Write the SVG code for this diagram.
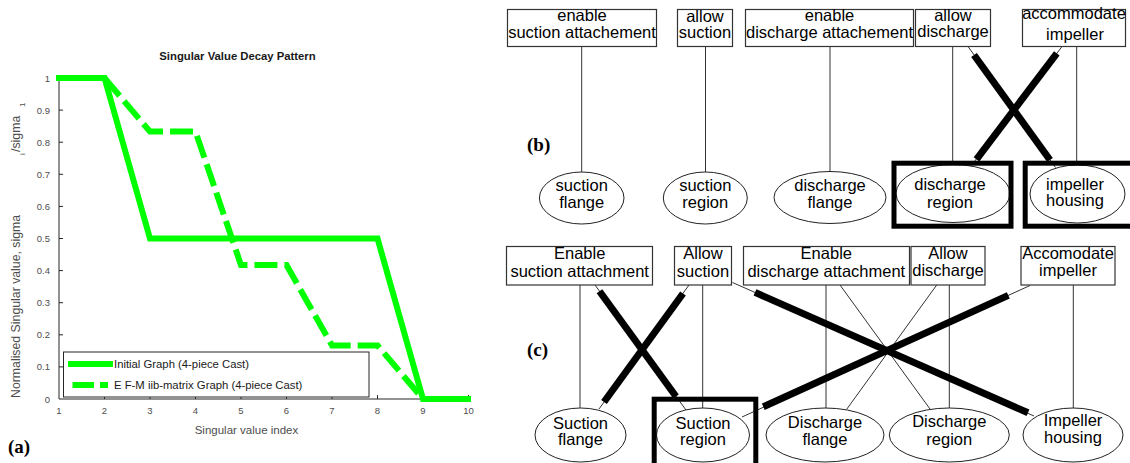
<svg xmlns="http://www.w3.org/2000/svg" width="1130" height="463" viewBox="0 0 1130 463">
<style>
.ax{stroke:#262626;stroke-width:1;fill:none}
.tky{font-family:"Liberation Sans",Arial,sans-serif;font-size:9.5px;fill:#4d4d4d;text-anchor:end}
.tkx{font-family:"Liberation Sans",Arial,sans-serif;font-size:9.5px;fill:#4d4d4d;text-anchor:middle}
.ttl{font-family:"Liberation Sans",Arial,sans-serif;font-size:11.3px;font-weight:bold;fill:#1a1a1a;text-anchor:middle}
.lbl{font-family:"Liberation Sans",Arial,sans-serif;font-size:11.5px;fill:#4d4d4d}
.sub{font-family:"Liberation Sans",Arial,sans-serif;font-size:8px;fill:#4d4d4d}
.leg{font-family:"Liberation Sans",Arial,sans-serif;font-size:11.3px;fill:#1a1a1a}
.g1{stroke:#00ff00;stroke-width:6;fill:none;stroke-linejoin:miter}
.g2{stroke:#00ff00;stroke-width:6;fill:none;stroke-dasharray:23 7;stroke-dashoffset:14.2}
.box{fill:#fff;stroke:#333;stroke-width:1.2}
.ell{fill:#fff;stroke:#222;stroke-width:1}
.t{font-family:"Liberation Sans",Arial,sans-serif;font-size:16.5px;fill:#000;text-anchor:middle}
.thin{stroke:#333;stroke-width:1;fill:none}
.thick{stroke:#000;stroke-width:7;fill:none}
.hl{fill:none;stroke:#000;stroke-width:5}
.pl{font-family:"Liberation Serif","Times New Roman",serif;font-weight:bold;font-size:19px;fill:#000}
</style>

<g id="chart-a">
  <text class="ttl" x="237.5" y="60">Singular Value Decay Pattern</text>
  <path class="ax" d="M59,78 V399 H468.5"/>
  <path class="ax" d="M59,366.9h4M59,334.8h4M59,302.7h4M59,270.6h4M59,238.5h4M59,206.4h4M59,174.3h4M59,142.2h4M59,110.1h4M59,78h4"/>
  <path class="ax" d="M104.5,399v-4M150,399v-4M195.5,399v-4M241,399v-4M286.5,399v-4M332,399v-4M377.5,399v-4M423,399v-4M468.5,399v-4"/>
  <g>
    <text class="tky" x="50" y="402.5">0</text>
    <text class="tky" x="50" y="370.4">0.1</text>
    <text class="tky" x="50" y="338.3">0.2</text>
    <text class="tky" x="50" y="306.2">0.3</text>
    <text class="tky" x="50" y="274.1">0.4</text>
    <text class="tky" x="50" y="242">0.5</text>
    <text class="tky" x="50" y="209.9">0.6</text>
    <text class="tky" x="50" y="177.8">0.7</text>
    <text class="tky" x="50" y="145.7">0.8</text>
    <text class="tky" x="50" y="113.6">0.9</text>
    <text class="tky" x="50" y="81.5">1</text>
  </g>
  <g>
    <text class="tkx" x="59" y="414">1</text>
    <text class="tkx" x="104.5" y="414">2</text>
    <text class="tkx" x="150" y="414">3</text>
    <text class="tkx" x="195.5" y="414">4</text>
    <text class="tkx" x="241" y="414">5</text>
    <text class="tkx" x="286.5" y="414">6</text>
    <text class="tkx" x="332" y="414">7</text>
    <text class="tkx" x="377.5" y="414">8</text>
    <text class="tkx" x="423" y="414">9</text>
    <text class="tkx" x="468.5" y="414">10</text>
  </g>
  <text class="lbl" x="246.5" y="434" text-anchor="middle">Singular value index</text>
  <text class="lbl" style="font-size:12.3px" transform="translate(19.5,398) rotate(-90)">Normalised Singular value, sigma</text>
  <text class="sub" transform="translate(24.5,155) rotate(-90)">i</text>
  <text class="lbl" style="font-size:12.3px" transform="translate(19.5,152) rotate(-90)">/sigma</text>
  <text class="sub" transform="translate(25,107) rotate(-90)">1</text>
  <polyline class="g1" points="56,78 104.5,78 150,238.5 377.5,238.5 423,399 471,399"/>
  <polyline class="g2" points="59,78 104.5,78 150,131.6 195.5,131.6 241,265.1 286.5,265.1 332,345.4 377.5,345.4 423,399 468.5,399"/>
  <rect x="63.5" y="352" width="305.5" height="45" fill="#fff" stroke="#262626" stroke-width="1"/>
  <line class="g1" x1="68" y1="364" x2="113" y2="364"/>
  <text class="leg" x="114" y="368">Initial Graph (4-piece Cast)</text>
  <path class="g1" d="M72.5,385H94M100,385H108"/>
  <text class="leg" x="114" y="389">E F-M iib-matrix Graph (4-piece Cast)</text>
  <text class="pl" x="8" y="453">(a)</text>
</g>

<g id="diagram-b">
  <text class="pl" x="527" y="151">(b)</text>
  <g id="b-connectors">
    <line class="thin" x1="581.7" y1="46.5" x2="581.7" y2="172"/>
    <line class="thin" x1="705.5" y1="46.5" x2="705.5" y2="172"/>
    <line class="thin" x1="830" y1="46.5" x2="830" y2="172"/>
    <line class="thin" x1="952.7" y1="46.5" x2="952.7" y2="164.5"/>
    <line class="thin" x1="1076.7" y1="46.5" x2="1076.7" y2="165"/>
    <line class="thin" x1="968" y1="46.5" x2="1055.5" y2="167.5"/>
    <line class="thick" x1="974" y1="55" x2="1050" y2="160"/>
    <line class="thin" x1="1062" y1="46.5" x2="971" y2="166"/>
    <line class="thick" x1="1056.8" y1="53.3" x2="976.5" y2="159.3"/>
  </g>
  <g id="b-enable-suction-attachement">
    <rect class="box" x="507.5" y="9.5" width="149" height="37"/>
    <text class="t" x="582" y="21">enable</text>
    <text class="t" x="582" y="37.5">suction attachement</text>
  </g>
  <g id="b-allow-suction">
    <rect class="box" x="677.5" y="9.5" width="55" height="37"/>
    <text class="t" x="705" y="21.5">allow</text>
    <text class="t" x="705" y="37.5">suction</text>
  </g>
  <g id="b-enable-discharge-attachement">
    <rect class="box" x="745.5" y="9.5" width="168" height="37"/>
    <text class="t" x="829.5" y="21">enable</text>
    <text class="t" x="829.5" y="38">discharge attachement</text>
  </g>
  <g id="b-allow-discharge">
    <rect class="box" x="915.5" y="9.5" width="75" height="37"/>
    <text class="t" x="953" y="21">allow</text>
    <text class="t" x="953" y="37">discharge</text>
  </g>
  <g id="b-accommodate-impeller">
    <rect class="box" x="1022.5" y="9.5" width="103" height="37"/>
    <text class="t" x="1074" y="19">accommodate</text>
    <text class="t" x="1075" y="40">impeller</text>
  </g>
  <g id="b-suction-flange">
    <ellipse class="ell" cx="581.7" cy="198" rx="42.3" ry="26"/>
    <text class="t" x="581.7" y="190.5">suction</text>
    <text class="t" x="581.7" y="207.5">flange</text>
  </g>
  <g id="b-suction-region">
    <ellipse class="ell" cx="705.3" cy="198" rx="42" ry="26"/>
    <text class="t" x="705.3" y="190.5">suction</text>
    <text class="t" x="705.3" y="207.5">region</text>
  </g>
  <g id="b-discharge-flange">
    <ellipse class="ell" cx="830" cy="197.5" rx="56" ry="26"/>
    <text class="t" x="830" y="190.5">discharge</text>
    <text class="t" x="830" y="207.5">flange</text>
  </g>
  <g id="b-discharge-region">
    <ellipse class="ell" cx="953" cy="193.5" rx="57" ry="29"/>
    <text class="t" x="950" y="190">discharge</text>
    <text class="t" x="950" y="208">region</text>
    <rect class="hl" x="894" y="163.2" width="117" height="63"/>
  </g>
  <g id="b-impeller-housing">
    <ellipse class="ell" cx="1077.5" cy="194" rx="47.5" ry="29"/>
    <text class="t" x="1075" y="189.5">impeller</text>
    <text class="t" x="1075" y="206">housing</text>
    <rect class="hl" x="1025.2" y="163.2" width="120" height="63"/>
  </g>
</g>

<g id="diagram-c">
  <text class="pl" x="527" y="356">(c)</text>
  <g id="c-connectors">
    <line class="thin" x1="580" y1="285" x2="580" y2="408"/>
    <line class="thin" x1="702.7" y1="285" x2="702.7" y2="408"/>
    <line class="thin" x1="826" y1="285" x2="826" y2="408"/>
    <line class="thin" x1="949.3" y1="285" x2="949.3" y2="408"/>
    <line class="thin" x1="1073.3" y1="285" x2="1073.3" y2="408"/>
    <line class="thin" x1="840" y1="285" x2="930" y2="409"/>
    <line class="thin" x1="936.7" y1="285" x2="846.5" y2="409.5"/>
    <line class="thin" x1="595" y1="285" x2="686" y2="410"/>
    <line class="thick" x1="599.5" y1="291.3" x2="676" y2="396.5"/>
    <line class="thin" x1="689" y1="285" x2="599" y2="409"/>
    <line class="thick" x1="683" y1="293.5" x2="604" y2="402"/>
    <line class="thin" x1="732.5" y1="282.5" x2="1034" y2="416"/>
    <line class="thick" x1="755" y1="292.4" x2="1028" y2="412.8"/>
    <line class="thin" x1="1030" y1="285.5" x2="742" y2="417"/>
    <line class="thick" x1="1008.3" y1="295.4" x2="763.3" y2="406.8"/>
  </g>
  <g id="c-enable-suction-attachment">
    <rect class="box" x="506.5" y="246.5" width="146" height="38.5"/>
    <text class="t" x="579.7" y="258.5">Enable</text>
    <text class="t" x="579.7" y="277">suction attachment</text>
  </g>
  <g id="c-allow-suction">
    <rect class="box" x="674.5" y="246.5" width="57" height="38.5"/>
    <text class="t" x="703" y="258.5">Allow</text>
    <text class="t" x="703" y="277">suction</text>
  </g>
  <g id="c-enable-discharge-attachment">
    <rect class="box" x="743.5" y="246.5" width="166" height="38.5"/>
    <text class="t" x="826.3" y="258.5">Enable</text>
    <text class="t" x="826.3" y="277">discharge attachment</text>
  </g>
  <g id="c-allow-discharge">
    <rect class="box" x="911" y="246.5" width="74" height="38.5"/>
    <text class="t" x="948" y="258.5">Allow</text>
    <text class="t" x="948" y="275.5">discharge</text>
  </g>
  <g id="c-accomodate-impeller">
    <rect class="box" x="1021" y="246.5" width="94" height="38.5"/>
    <text class="t" x="1068" y="258.5">Accomodate</text>
    <text class="t" x="1068" y="276">impeller</text>
  </g>
  <g id="c-suction-flange">
    <ellipse class="ell" cx="580.5" cy="435" rx="45.5" ry="27"/>
    <text class="t" x="580.5" y="428.5">Suction</text>
    <text class="t" x="580.5" y="445">flange</text>
  </g>
  <g id="c-suction-region">
    <ellipse class="ell" cx="703" cy="435" rx="46.5" ry="27"/>
    <text class="t" x="703" y="428.5">Suction</text>
    <text class="t" x="703" y="445">region</text>
    <rect class="hl" x="654.2" y="399.2" width="101.6" height="70"/>
  </g>
  <g id="c-discharge-flange">
    <ellipse class="ell" cx="825" cy="435" rx="59" ry="27"/>
    <text class="t" x="825" y="428">Discharge</text>
    <text class="t" x="825" y="445">flange</text>
  </g>
  <g id="c-discharge-region">
    <ellipse class="ell" cx="949.3" cy="435" rx="60" ry="27"/>
    <text class="t" x="949.3" y="427">Discharge</text>
    <text class="t" x="949.3" y="444.5">region</text>
  </g>
  <g id="c-impeller-housing">
    <ellipse class="ell" cx="1073" cy="435" rx="50" ry="27"/>
    <text class="t" x="1073" y="426">Impeller</text>
    <text class="t" x="1073" y="442.5">housing</text>
  </g>
</g>
</svg>
